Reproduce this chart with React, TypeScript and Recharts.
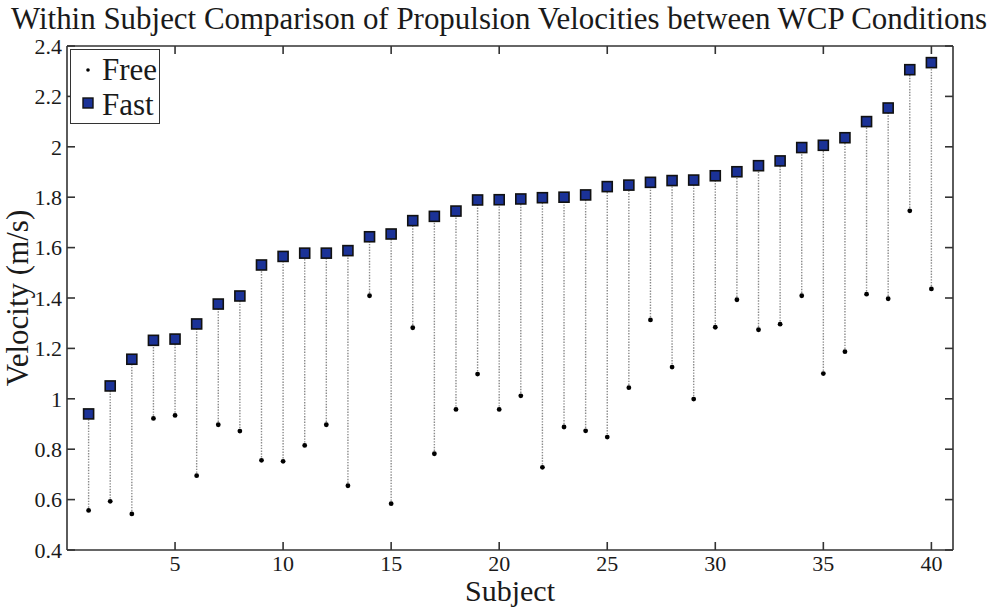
import React from 'react';
import { ScatterChart, Scatter, XAxis, YAxis, ErrorBar, Legend } from 'recharts';

const subjects = [
  1, 2, 3, 4, 5, 6, 7, 8, 9, 10, 11, 12, 13, 14, 15, 16, 17, 18, 19, 20,
  21, 22, 23, 24, 25, 26, 27, 28, 29, 30, 31, 32, 33, 34, 35, 36, 37, 38, 39, 40,
];

const fastVelocity = [
  0.94, 1.051, 1.157, 1.232, 1.237, 1.297, 1.376, 1.408, 1.531, 1.565,
  1.578, 1.578, 1.588, 1.643, 1.654, 1.707, 1.724, 1.745, 1.789, 1.79,
  1.793, 1.798, 1.8, 1.809, 1.842, 1.848, 1.859, 1.866, 1.868, 1.885,
  1.901, 1.925, 1.944, 1.997, 2.006, 2.036, 2.1, 2.154, 2.306, 2.334,
];

const freeVelocity = [
  0.557, 0.593, 0.543, 0.922, 0.934, 0.695, 0.897, 0.872, 0.756, 0.752,
  0.815, 0.897, 0.655, 1.409, 0.584, 1.282, 0.782, 0.958, 1.098, 0.958,
  1.012, 0.728, 0.888, 0.873, 0.848, 1.044, 1.313, 1.126, 0.999, 1.284,
  1.393, 1.274, 1.296, 1.409, 1.1, 1.187, 1.415, 1.397, 1.746, 1.436,
];

const xTicks = [5, 10, 15, 20, 25, 30, 35, 40];
const yTicks = [0.4, 0.6, 0.8, 1.0, 1.2, 1.4, 1.6, 1.8, 2.0, 2.2, 2.4];
const xDomain = [0, 41];
const yDomain = [0.4, 2.4];

const fastData = subjects.map((s, i) => ({
  x: s,
  y: fastVelocity[i],
  free: freeVelocity[i],
  stem: [fastVelocity[i] - freeVelocity[i], 0],
}));
const freeData = subjects.map((s, i) => ({ x: s, y: freeVelocity[i] }));

const FONT = '"Liberation Serif", "Times New Roman", serif';
const TEXT = '#1a1a1a';
const AXIS = '#333';
const SQUARE_FILL = '#1b3297';

const tickStyle = { fontFamily: FONT, fontSize: 22, fill: TEXT };
const axisLineStyle = { stroke: AXIS, strokeWidth: 1.6 };
const tickLineStyle = { stroke: AXIS, strokeWidth: 1.6 };

const FastShape = (props: any) => {
  const { cx, cy } = props;
  if (cx == null || cy == null) return null;
  return (
    <rect x={cx - 5} y={cy - 5} width={10} height={10} fill={SQUARE_FILL} stroke="#111" strokeWidth={1.6} />
  );
};

const FreeShape = (props: any) => {
  const { cx, cy } = props;
  if (cx == null || cy == null) return null;
  return <circle cx={cx} cy={cy} r={2.4} fill="#000" />;
};

const NoShape = () => <g />;
const NoTick = () => <g />;

const stemError = (d: any) => {
  const p = d && d.payload && d.payload.stem ? d.payload : d;
  return p.stem;
};

const renderLegend = () => (
  <div
    style={{
      width: 90,
      height: 75,
      boxSizing: 'border-box',
      border: `1.6px solid ${AXIS}`,
      background: '#fff',
    }}
  >
    <svg width={87} height={72} style={{ display: 'block' }}>
      <circle cx={17} cy={20} r={1.8} fill="#000" />
      <text x={31} y={30} fontFamily={FONT} fontSize={31} fill={TEXT}>Free</text>
      <rect x={12} y={48} width={10} height={10} fill={SQUARE_FILL} stroke="#111" strokeWidth={1.4} />
      <text x={31} y={65} fontFamily={FONT} fontSize={31} fill={TEXT}>Fast</text>
    </svg>
  </div>
);

const renderYLabel = (props: any) => {
  const vb = props.viewBox || { x: 0, y: 46, width: 67, height: 504 };
  const x = vb.x + 28;
  const y = vb.y + vb.height / 2;
  return (
    <text
      x={x}
      y={y}
      transform={`rotate(-90, ${x}, ${y})`}
      textAnchor="middle"
      fontFamily={FONT}
      fontSize={31}
      fill={TEXT}
    >
      Velocity (m/s)
    </text>
  );
};

const formatY = (v: number) => String(Number(v.toFixed(1)));

export default function App() {
  return (
    <div style={{ position: 'absolute', left: 0, top: 0, width: 1000, height: 613, background: '#fff' }}>
      <svg
        width={1000}
        height={46}
        style={{ position: 'absolute', left: 0, top: 0, pointerEvents: 'none' }}
      >
        <text
          x={11}
          y={29}
          textLength={976}
          lengthAdjust="spacingAndGlyphs"
          fontFamily={FONT}
          fontSize={31}
          fill={TEXT}
        >
          Within Subject Comparison of Propulsion Velocities between WCP Conditions
        </text>
      </svg>
      <ScatterChart
        width={1000}
        height={613}
        margin={{ top: 46, right: 47, bottom: 0, left: 0 }}
        style={{ position: 'absolute', left: 0, top: 0 }}
      >
        <XAxis
          xAxisId="main"
          dataKey="x"
          type="number"
          domain={xDomain}
          ticks={xTicks}
          allowDataOverflow
          height={63}
          tick={tickStyle}
          tickLine={false}
          tickSize={0}
          tickMargin={5}
          axisLine={axisLineStyle}
          label={{
            value: 'Subject',
            position: 'insideBottom',
            offset: 12,
            fontFamily: FONT,
            fontSize: 30,
            fill: TEXT,
          }}
        />
        <XAxis
          xAxisId="bottomTicks"
          dataKey="x"
          orientation="bottom"
          mirror
          type="number"
          domain={xDomain}
          ticks={xTicks}
          allowDataOverflow
          height={8}
          tick={NoTick}
          tickSize={8}
          tickLine={tickLineStyle}
          axisLine={false}
        />
        <XAxis
          xAxisId="top"
          dataKey="x"
          orientation="top"
          mirror
          type="number"
          domain={xDomain}
          ticks={xTicks}
          allowDataOverflow
          height={8}
          tick={NoTick}
          tickSize={8}
          tickLine={tickLineStyle}
          axisLine={axisLineStyle}
        />
        <YAxis
          yAxisId="main"
          dataKey="y"
          type="number"
          domain={yDomain}
          ticks={yTicks}
          allowDataOverflow
          width={67}
          tick={tickStyle}
          tickFormatter={formatY}
          tickLine={false}
          tickSize={0}
          tickMargin={5}
          axisLine={axisLineStyle}
          label={{ content: renderYLabel }}
        />
        <YAxis
          yAxisId="leftTicks"
          dataKey="y"
          orientation="left"
          mirror
          type="number"
          domain={yDomain}
          ticks={yTicks}
          allowDataOverflow
          width={8}
          tick={NoTick}
          tickSize={8}
          tickLine={tickLineStyle}
          axisLine={false}
        />
        <YAxis
          yAxisId="right"
          dataKey="y"
          orientation="right"
          mirror
          type="number"
          domain={yDomain}
          ticks={yTicks}
          allowDataOverflow
          width={8}
          tick={NoTick}
          tickSize={8}
          tickLine={tickLineStyle}
          axisLine={axisLineStyle}
        />
        <Legend
          layout="vertical"
          verticalAlign="middle"
          align="center"
          content={renderLegend}
          wrapperStyle={{ position: 'absolute', left: 70, top: 49, width: 90, height: 75 }}
        />
        <Scatter
          name="frameA"
          data={freeData}
          xAxisId="top"
          yAxisId="right"
          shape={NoShape}
          legendType="none"
          isAnimationActive={false}
        />
        <Scatter
          name="frameB"
          data={freeData}
          xAxisId="bottomTicks"
          yAxisId="leftTicks"
          shape={NoShape}
          legendType="none"
          isAnimationActive={false}
        />
        <Scatter
          name="Fast"
          data={fastData}
          xAxisId="main"
          yAxisId="main"
          shape={FastShape}
          isAnimationActive={false}
        >
          <ErrorBar
            dataKey={stemError}
            direction="y"
            width={0}
            stroke="#8a8a8a"
            strokeWidth={1.4}
            strokeDasharray="1.4 1.4"
            isAnimationActive={false}
          />
        </Scatter>
        <Scatter
          name="Free"
          data={freeData}
          xAxisId="main"
          yAxisId="main"
          shape={FreeShape}
          isAnimationActive={false}
        />
      </ScatterChart>
    </div>
  );
}
